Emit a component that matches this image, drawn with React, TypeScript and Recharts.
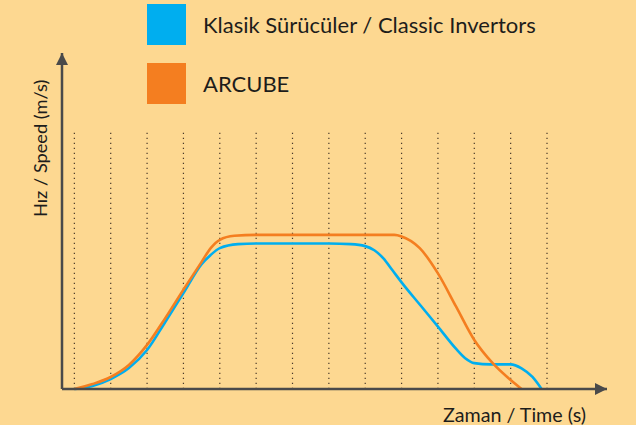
import React from "react";
import { Legend, Line, LineChart, ReferenceLine, XAxis, YAxis } from "recharts";

// time in grid steps (first dotted line = 0), speed relative to the ARCUBE plateau
const timeBlue = [0, 0.5, 1, 1.5, 2, 2.5, 3, 3.5, 3.75, 4, 4.5, 5, 6, 7, 7.6, 8, 8.25, 8.5, 8.75, 9, 9.5, 10, 10.5, 10.75, 11, 11.45, 12, 12.3, 12.6, 12.85];
const speedBlue = [0, 0.02, 0.065, 0.136, 0.253, 0.435, 0.622, 0.81, 0.87, 0.914, 0.94, 0.944, 0.944, 0.944, 0.94, 0.927, 0.9, 0.848, 0.77, 0.692, 0.548, 0.405, 0.26, 0.2, 0.168, 0.16, 0.16, 0.134, 0.078, 0];

const timeOrange = [0, 0.5, 1, 1.5, 2, 2.5, 3, 3.5, 3.75, 4, 4.4, 5, 7, 8.8, 9, 9.5, 10, 10.5, 11, 11.5, 12, 12.3];
const speedOrange = [0, 0.032, 0.078, 0.156, 0.286, 0.46, 0.645, 0.825, 0.914, 0.968, 0.994, 1, 1, 1, 0.99, 0.914, 0.75, 0.534, 0.318, 0.169, 0.058, 0];

const gridTimes = [0, 1, 2, 3, 4, 5, 6, 7, 8, 9, 10, 11, 12, 13];
const gridTop = 1.68;

const seriesNames = ["Klasik Sürücüler / Classic Invertors", "ARCUBE"];
const xLabel = "Zaman / Time (s)";
const yLabel = "Hız / Speed (m/s)";

const blueData = timeBlue.map((t, i) => ({ t, v: speedBlue[i] }));
const orangeData = timeOrange.map((t, i) => ({ t, v: speedOrange[i] }));

const BLUE = "#00AEEF";
const ORANGE = "#F47E20";
const AXIS = "#4A4A4A";
const TEXT = "#1d1d1b";
const FONT = "Lato, 'Open Sans', sans-serif";

function LegendBox({ payload }: any) {
  const items = [...(payload || [])].sort((a: any, b: any) => seriesNames.indexOf(a.value) - seriesNames.indexOf(b.value));
  return (
    <div style={{ fontFamily: FONT }}>
      {items.map((entry: any) => (
        <div key={entry.value} style={{ display: "flex", alignItems: "center", height: 41, marginBottom: 18 }}>
          <div style={{ width: 39, height: 41, background: entry.color }} />
          <span style={{ marginLeft: 17, fontSize: 22, color: TEXT }}>{entry.value}</span>
        </div>
      ))}
    </div>
  );
}

export default function App() {
  return (
    <div style={{ position: "absolute", left: 0, top: 0, width: 636, height: 425, background: "#FDD891" }}>
      <LineChart width={636} height={425} margin={{ top: 53, right: 29, bottom: 35, left: 61 }}>
        <defs>
          <marker id="arrow" viewBox="0 0 10 10" refX="10" refY="5" markerUnits="userSpaceOnUse" markerWidth="14" markerHeight="12" orient="auto-start-reverse">
            <path d="M0,0 L10,5 L0,10 z" fill={AXIS} />
          </marker>
        </defs>
        <XAxis
          type="number"
          dataKey="t"
          domain={[-0.34, 14.65]}
          height={1}
          tick={false}
          tickLine={false}
          axisLine={{ stroke: AXIS, strokeWidth: 2.5, markerEnd: "url(#arrow)" }}
        />
        <YAxis
          type="number"
          domain={[0, 2.18]}
          width={1}
          tick={false}
          tickLine={false}
          axisLine={{ stroke: AXIS, strokeWidth: 2.5, markerStart: "url(#arrow)" }}
        />
        {gridTimes.map((t) => (
          <ReferenceLine key={t} segment={[{ x: t, y: 0 }, { x: t, y: gridTop }]} stroke="#4a3a2a" strokeWidth={1.2} strokeDasharray="1.2 3.8" />
        ))}
        <text x={586} y={421.5} textAnchor="end" fontFamily={FONT} fontSize={19.7} fill={TEXT}>
          {xLabel}
        </text>
        <text x={46.5} y={217} transform="rotate(-90 46.5 217)" textAnchor="start" fontFamily={FONT} fontSize={18.2} fill={TEXT}>
          {yLabel}
        </text>
        <Legend layout="horizontal" verticalAlign="middle" align="center" wrapperStyle={{ left: 147, top: 4 }} content={<LegendBox />} />
        <Line data={blueData} dataKey="v" name={seriesNames[0]} type="monotone" stroke={BLUE} strokeWidth={2.6} dot={false} isAnimationActive={false} />
        <Line data={orangeData} dataKey="v" name={seriesNames[1]} type="monotone" stroke={ORANGE} strokeWidth={2.6} dot={false} isAnimationActive={false} />
      </LineChart>
    </div>
  );
}
